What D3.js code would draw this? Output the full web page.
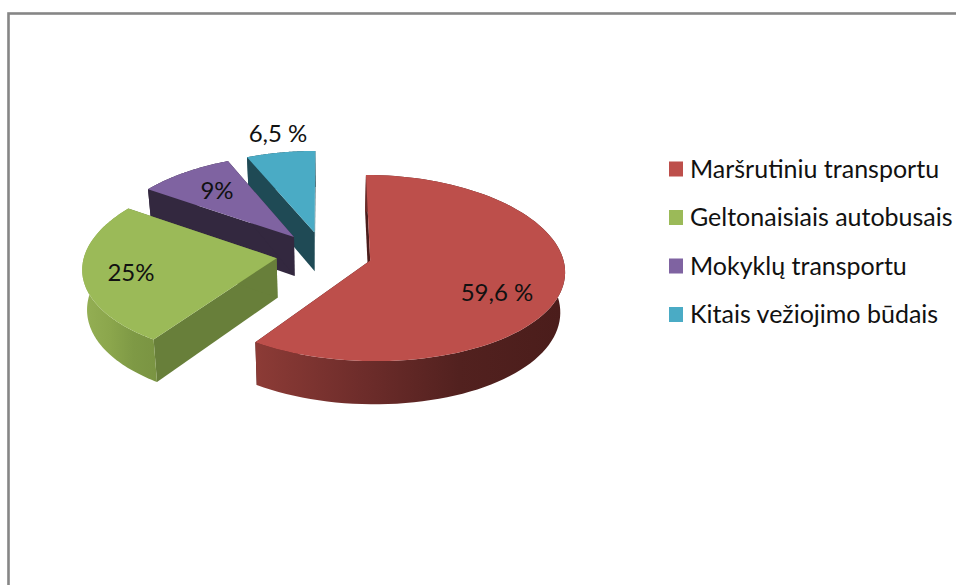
<!DOCTYPE html>
<html><head><meta charset="utf-8">
<script src="https://cdn.jsdelivr.net/npm/d3@7"></script>
<style>html,body{margin:0;padding:0;background:#fff;overflow:hidden}svg{display:block}text{font-family:Lato,"Open Sans",sans-serif;fill:#111}</style>
</head><body><svg id="c" width="956" height="585"></svg>
<script>
// Data
const categories = ["Maršrutiniu transportu","Geltonaisiais autobusais","Mokyklų transportu","Kitais vežiojimo būdais"];
const values = [59.6,25,9,6.5];
const valueLabels = ["59,6 %","25%","9%","6,5 %"];
const topColors = ["#bd4f4b","#9bba58","#7f63a1","#4aabc5"];
const cutColors = ["#4a1c1b","#687f3a","#33283f","#1f4a55"];
const wallStops = [["#8c3b36","#6f2d2b","#52211f","#4b1d1b"],["#93ae53","#8ba64c","#7e9945","#7a9442"],["#33283f","#33283f","#33283f","#33283f"],["#1f4a55","#1f4a55","#1f4a55","#1f4a55"]];

// Layout
const G = {x:324,y:254}, RX = 192, RY = 197, EXPLODE = 48, TILT = 0.464, PERSP = 0.000404, PERSP_X = 0.00051, DEPTH = 39.5, SHRINK = 0.98;
const labelPos = [[497,291.5],[131,271.5],[217,189.5],[278,132]];
const labelSize = 24, legendSize = 25;
const legendY = d3.scaleLinear().domain([0,3]).range([169,314.5]);

const svg = d3.select("#c");
const defs = svg.append("defs");
svg.append("rect").attr("x",8.5).attr("y",13.5).attr("width",1000).attr("height",700)
  .attr("fill","#fff").attr("stroke","#868686").attr("stroke-width",2.6);

const arcs = d3.pie().sort(null).value(d=>d)(values);
const topPt = (X,Y)=>[G.x+X/(1+PERSP_X*Y),G.y-TILT*Y/(1+PERSP*Y)];
const botPt = (X,Y)=>{const w=1+PERSP*Y;const p=topPt(X,Y);return [G.x+(p[0]-G.x)*SHRINK,p[1]+DEPTH/w];};
const line = d3.line();

// back to front: last slices are farthest
d3.range(arcs.length-1,-1,-1).forEach(i=>{
  const a = arcs[i], mid=(a.startAngle+a.endAngle)/2;
  const cx = EXPLODE*Math.sin(mid), cy = EXPLODE*Math.cos(mid);
  const ang = d3.scaleLinear().domain([0,1]).range([a.startAngle,a.endAngle]);
  const rim = d3.range(0,1.0001,1/90).map(t=>{const th=ang(t);return [cx+RX*Math.sin(th),cy+RY*Math.cos(th)];});
  const g = svg.append("g").attr("class","slice");
  const gid="wall"+i;
  const xs = rim.map(p=>botPt(p[0],p[1])[0]);
  const grad = defs.append("linearGradient").attr("id",gid).attr("gradientUnits","userSpaceOnUse")
    .attr("x1",d3.min(xs)).attr("x2",d3.max(xs)).attr("y1",0).attr("y2",0);
  wallStops[i].forEach((c,k)=>grad.append("stop").attr("offset",k/(wallStops[i].length-1)).attr("stop-color",c));
  // cut faces
  [rim[0],rim[rim.length-1]].forEach(p=>{
    const poly=[topPt(cx,cy),topPt(p[0],p[1]),botPt(p[0],p[1]),botPt(cx,cy)];
    g.append("path").attr("d",line(poly)+"Z").attr("fill",cutColors[i]);
  });
  // outer wall
  const wall = rim.map(p=>topPt(p[0],p[1])).concat(rim.slice().reverse().map(p=>botPt(p[0],p[1])));
  g.append("path").attr("d",line(wall)+"Z").attr("fill",`url(#${gid})`);
  // top face
  const top=[topPt(cx,cy)].concat(rim.map(p=>topPt(p[0],p[1])));
  g.append("path").attr("d",line(top)+"Z").attr("fill",topColors[i]);
});

// value labels
svg.append("g").selectAll("text").data(valueLabels).join("text")
  .attr("x",(d,i)=>labelPos[i][0]).attr("y",(d,i)=>labelPos[i][1])
  .attr("text-anchor","middle").attr("dominant-baseline","central")
  .attr("font-size",labelSize).text(d=>d);

// legend
const lg = svg.append("g").selectAll("g").data(categories).join("g")
  .attr("transform",(d,i)=>`translate(0,${legendY(i)})`);
lg.append("rect").attr("x",669).attr("y",-7.5).attr("width",14).attr("height",15).attr("fill",(d,i)=>topColors[i]);
lg.append("text").attr("x",690).attr("y",-1.5).attr("dominant-baseline","central").attr("font-size",legendSize).text(d=>d);
</script></body></html>
